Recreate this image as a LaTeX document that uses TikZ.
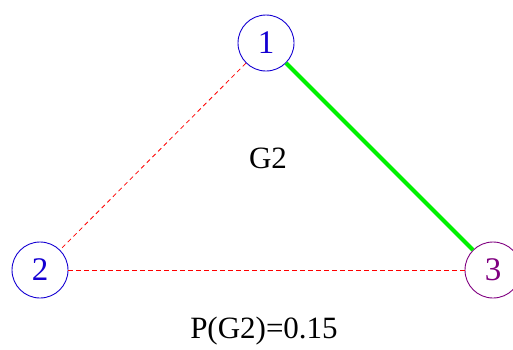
\documentclass[tikz,border=0pt]{standalone}
\usepackage{fontspec}
\setmainfont{Liberation Serif}
\definecolor{nblue}{RGB}{20,0,210}
\definecolor{npurple}{RGB}{128,0,128}
\definecolor{egreen}{RGB}{0,240,0}
\begin{document}
\begin{tikzpicture}[x=1pt,y=-1pt,
  vtx/.style={circle,draw,line width=0.9pt,minimum size=56pt,inner sep=0pt,font=\fontsize{33}{33}\selectfont},
  lbl/.style={font=\fontsize{31}{31}\selectfont,inner sep=0pt},
  dashedge/.style={red,line width=0.8pt,dash pattern=on 4.5pt off 3.5pt},
  solidedge/.style={egreen,line width=4pt}]
\useasboundingbox (0,0) rectangle (513,349);
\node[vtx,draw=nblue,text=nblue] (n1) at (266,43) {1};
\node[vtx,draw=nblue,text=nblue] (n2) at (40,270) {2};
\node[vtx,draw=npurple,text=npurple] (n3) at (493,270) {3};
\draw[dashedge] (n1) -- (n2);
\draw[dashedge] (n2) -- (n3);
\draw[solidedge] (n1) -- (n3);
\node[lbl] (g) at (268,158) {G2};
\node[lbl] (p) at (264,331) {P(G2)=0.15};
\end{tikzpicture}
\end{document}
